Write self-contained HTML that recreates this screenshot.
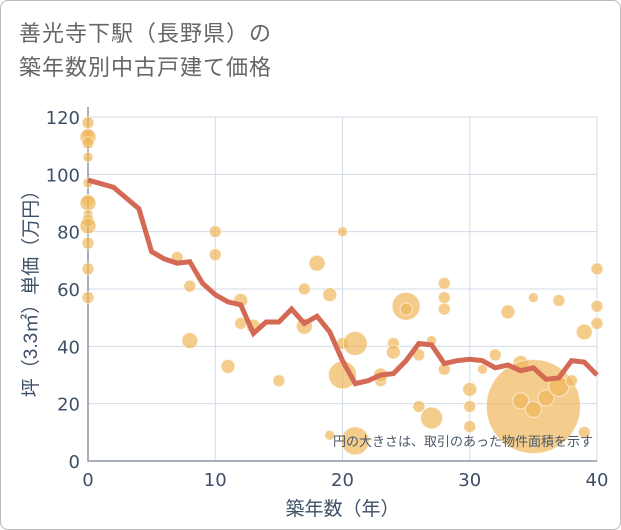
<!DOCTYPE html>
<html><head><meta charset="utf-8"><style>
body{margin:0;background:#fff;font-family:"Liberation Sans","Noto Sans CJK JP",sans-serif;}
#wrap{position:relative;width:619px;height:528px;border:1px solid #bbb;border-radius:8px;overflow:hidden;}
#title{position:absolute;left:18px;top:16px;font-size:22px;line-height:34px;color:#666;letter-spacing:1px;}
svg{position:absolute;left:0;top:0;}
</style></head><body>
<div id="wrap">
<div id="title">善光寺下駅（長野県）の<br>築年数別中古戸建て価格</div>
<svg id="c" width="621" height="530"></svg>
</div>
<script>
const lineYears=[0,2,4,5,6,7,8,9,10,11,12,13,14,15,16,17,18,19,20,21,22,23,24,25,26,27,28,29,30,31,32,33,34,35,36,37,38,39,40];
const lineValues=[98,95.5,88,73,70.5,69,69.5,62,58,55.5,54.5,44.5,48.5,48.5,53,48,50.5,45,35,27,28,30,30.5,35,41,40.5,34,35,35.5,35,32.5,33.5,31.5,32.5,28.5,29,35,34.5,30];
const bubbleX=[0,0,0,0,0,0,0,0,0,0,0,0,0,0,7,8,8,10,10,11,12,12,13,15,17,17,18,19,20,20,20,21,21,19,23,23,24,24,25,25,26,26,27,27,28,28,28,28,30,30,30,31,32,33,34,35,35,34,35,36,37,37,38,39,39,40,40,40];
const bubbleY=[118,114,113,111,106,97,91,90,86,84,82,76,67,57,71,61,42,80,72,33,56,48,47,28,60,47,69,58,80,41,30,41,7,9,28,30,41,38,54,53,19,37,42,15,62,57,53,32,25,19,12,32,37,52,34,57,19,21,18,22,56,26,28,10,45,67,54,48];
const bubbleR=[6,6,8,6,5,5,6,8,5,6,8,6,6,6,6,6,8,6,6,7,7,6,7,6,6,8,8,7,5,6,14,12,14,5,6,7,6,7,14,6,6,6,5,11,6,6,6,6,7,6,6,5,6,7,8,5,47,8,8,8,6,10,6,6,8,6,6,6];
const xTicks=[0,10,20,30,40];
const yTicks=[0,20,40,60,80,100,120];
const L=87,R=596,T=116,B=460;
const sx=v=>L+(v/40)*(R-L);
const sy=v=>B-(v/120)*(B-T);
const svg=document.getElementById('c');
const NS='http://www.w3.org/2000/svg';
const TF='"DejaVu Sans","Liberation Sans",sans-serif';
function mk(t,a){const e=document.createElementNS(NS,t);for(const k in a)e.setAttribute(k,a[k]);svg.appendChild(e);return e;}
yTicks.forEach(v=>{
 const g=mk('line',{x1:L,x2:R,y1:sy(v),y2:sy(v),stroke:'#d0dbe8','stroke-width':1});
 
 
 const t=mk('text',{x:L-8,y:sy(v)+7,'text-anchor':'end','font-size':18,fill:'#3d5066','font-family':TF});t.textContent=v;
 
 
});
xTicks.forEach(v=>{
 const g=mk('line',{x1:sx(v),x2:sx(v),y1:T,y2:B,stroke:'#d0dbe8','stroke-width':1});
 
 
 const t=mk('text',{x:sx(v),y:B+25,'text-anchor':'middle','font-size':18,fill:'#3d5066','font-family':TF});t.textContent=v;
 
 
});
const ax=mk('path',{d:`M${L},${T-10}V${B}H${R}`,stroke:'#8a96a3',fill:'none','stroke-width':1.5});


for(let i=0;i<bubbleX.length;i++){
 const c=mk('circle',{cx:sx(bubbleX[i]),cy:sy(bubbleY[i]),r:bubbleR[i],fill:'rgba(240,183,90,0.7)',stroke:'rgba(255,255,255,0.6)','stroke-width':1});
 
 
}
const p=mk('polyline',{points:lineYears.map((x,i)=>sx(x)+','+sy(lineValues[i])).join(' '),fill:'none',stroke:'#d46a55','stroke-width':5,'stroke-linejoin':'miter'});


const n=mk('text',{x:592,y:445,'text-anchor':'end','font-size':13,fill:'#4a5868'});n.textContent='円の大きさは、取引のあった物件面積を示す';


const xt=mk('text',{x:(L+R)/2,y:514,'text-anchor':'middle','font-size':19,fill:'#3d5066'});xt.textContent='築年数（年）';


const yt=mk('text',{x:0,y:0,'text-anchor':'middle','font-size':19,fill:'#3d5066',transform:`translate(36,${(T+B)/2}) rotate(-90)`});yt.textContent='坪（3.3㎡）単価（万円）';


</script>
</body></html>
